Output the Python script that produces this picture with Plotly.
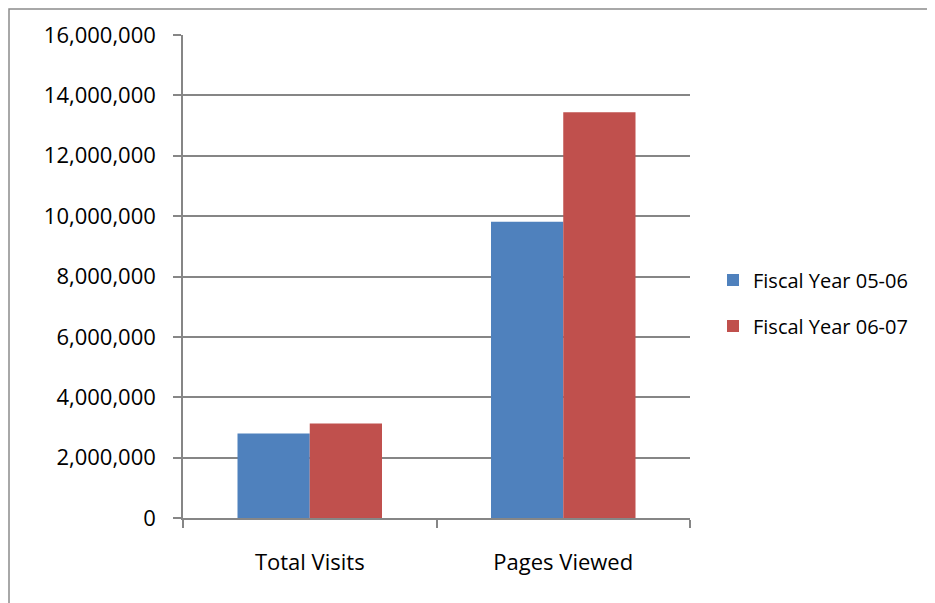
import plotly.graph_objects as go

categories = ["Total Visits", "Pages Viewed"]
series_names = ["Fiscal Year 05-06", "Fiscal Year 06-07"]
fy0506 = [2800000, 9810000]
fy0607 = [3130000, 13440000]
colors = ["#4F81BD", "#C0504D"]
y_ticks = [0, 2000000, 4000000, 6000000, 8000000, 10000000, 12000000, 14000000, 16000000]
y_tick_text = ["0", "2,000,000", "4,000,000", "6,000,000", "8,000,000",
               "10,000,000", "12,000,000", "14,000,000", "16,000,000"]

# page has an 8px body margin, so the figure itself is 8px smaller each way
OFF = 8
W, H = 935 - OFF, 603 - OFF
L, R, T, B = 183 - OFF, 690 - OFF, 35 - OFF, 518 - OFF
FONT = "Open Sans"

fig = go.Figure()
for name, vals, c, grp in zip(series_names, [fy0506, fy0607], colors, ["a", "b"]):
    fig.add_trace(go.Bar(x=categories, y=vals, name=name, marker_color=c,
                         marker_line_width=0, legendgroup=grp))

pw, ph = R - L, B - T
def px(x):
    return (x - OFF - L) / pw
def py(y):
    return (B - (y - OFF)) / ph

fig.update_layout(
    width=W, height=H,
    margin=dict(l=L, r=W - R, t=T, b=H - B, pad=0),
    paper_bgcolor="white", plot_bgcolor="white",
    bargap=0.43, bargroupgap=0,
    font=dict(family=FONT, size=22, color="black"),
    showlegend=True,
    legend=dict(x=px(713), y=py(303), xanchor="left", yanchor="middle",
                font=dict(family=FONT, size=20, color="black"),
                tracegroupgap=17, itemwidth=30, bgcolor="rgba(0,0,0,0)"),
    xaxis=dict(showline=True, linecolor="#868686", linewidth=1.5,
               ticks="outside", tickson="boundaries", ticklen=8, tickwidth=1.5,
               tickcolor="#868686", showgrid=False, zeroline=False,
               tickfont=dict(family=FONT, size=22), ticklabelstandoff=24),
    yaxis=dict(range=[0, 16000000], tickvals=y_ticks, ticktext=y_tick_text,
               showline=True, linecolor="#868686", linewidth=1.5,
               ticks="outside", ticklen=8, tickwidth=1.5, tickcolor="#868686",
               showgrid=True, gridcolor="#868686", gridwidth=1.5, zeroline=False,
               tickfont=dict(family=FONT, size=22), ticklabelstandoff=13),
    shapes=[dict(type="rect", xref="paper", yref="paper",
                 x0=px(9), x1=px(950), y0=py(9), y1=py(620),
                 line=dict(color="#8C8C8C", width=1.5), fillcolor="rgba(0,0,0,0)",
                 layer="below")],
)

fig.write_html("out.html")
